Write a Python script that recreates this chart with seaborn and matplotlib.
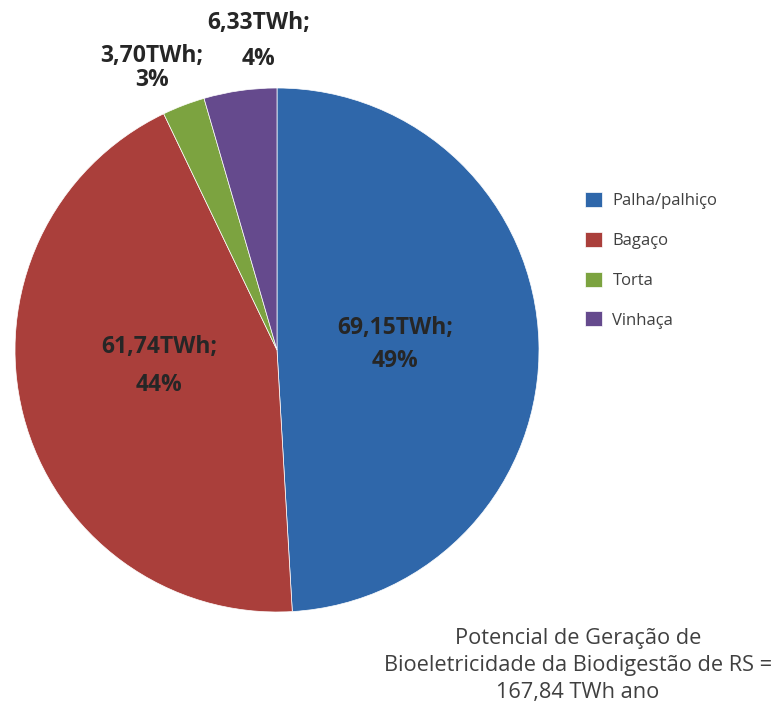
import matplotlib
matplotlib.use("Agg")
import matplotlib.pyplot as plt
import seaborn as sns

sns.set_theme(style="white")
plt.rcParams["font.family"] = ["Open Sans", "DejaVu Sans"]

categories = ["Palha/palhiço", "Bagaço", "Torta", "Vinhaça"]
values_twh = [69.15, 61.74, 3.70, 6.33]
total_label = "Potencial de Geração de\nBioeletricidade da Biodigestão de RS =\n167,84 TWh ano"

colors = ["#2F67AA", "#AA3F3B", "#7CA340", "#654A8D"]
text_color = "#262626"

fig = plt.figure(figsize=(7.77, 7.13), dpi=100)
ax = fig.add_axes([15 / 777, 101 / 713, 524 / 777, 524 / 713])

wedges, _ = ax.pie(values_twh, colors=colors, startangle=90, counterclock=False,
                   radius=1.0, wedgeprops=dict(linewidth=0.5, edgecolor="white"))
ax.set_xlim(-1, 1)
ax.set_ylim(-1, 1)
ax.set_aspect("equal")
ax.axis("off")

total = sum(values_twh)
# label anchor points (pie units) and line gap for each slice
label_pos = [(0.45, 0.02), (-0.45, -0.06), (-0.477, 1.075), (-0.07, 1.18)]
line_gap = [0.125, 0.145, 0.092, 0.135]
for v, (x, y), gap in zip(values_twh, label_pos, line_gap):
    pct = round(100 * v / total)
    val = f"{v:.2f}".replace(".", ",") + "TWh;"
    ax.text(x, y + gap / 2, val, ha="center", va="center", fontsize=16.5,
            fontweight="bold", color=text_color, clip_on=False)
    ax.text(x, y - gap / 2, f"{pct}%", ha="center", va="center", fontsize=16.5,
            fontweight="bold", color=text_color, clip_on=False)

leg = fig.legend(wedges, categories, loc="upper left",
                 bbox_to_anchor=(585 / 777, (713 - 192) / 713),
                 frameon=False, fontsize=12, handlelength=1.0, handleheight=1.0,
                 handletextpad=0.65, labelspacing=1.36, borderpad=0, borderaxespad=0)
for t in leg.get_texts():
    t.set_color("#404040")

fig.text(578 / 777, (713 - 628) / 713, total_label, ha="center", va="top",
         fontsize=15.7, color="#404040", linespacing=1.38)

fig.savefig("out.png", dpi=100, facecolor="white")
